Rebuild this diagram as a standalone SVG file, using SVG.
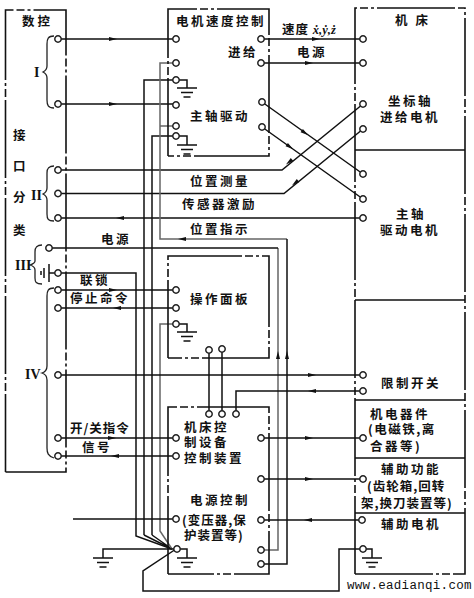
<svg xmlns="http://www.w3.org/2000/svg" width="474" height="598" viewBox="0 0 474 598">
<style>
.b{fill:none;stroke:#111;stroke-width:1.6;stroke-dasharray:78 3 8 3 3 3}
.l{fill:none;stroke:#111;stroke-width:1.5}
.g{fill:none;stroke:#666;stroke-width:1.5}
.p{fill:#fff;stroke:#222;stroke-width:1.5}
.a{fill:#111}
.br{fill:none;stroke:#222;stroke-width:1.3}
text{font-family:"Noto Sans CJK SC","Noto Sans",sans-serif;font-size:12.5px;font-weight:700;letter-spacing:2.5px;fill:#111}
.r{font-family:"Liberation Serif",serif;font-size:14px;letter-spacing:0}
.u{font-family:"Liberation Mono",monospace;font-size:12.5px;font-weight:400;letter-spacing:0.3px}
.i{font-family:"Liberation Serif",serif;font-style:italic;letter-spacing:0}
</style>
<defs>
<path id="a" class="a" d="M-4-2L4 0L-4 2Z"/>
<circle id="o" class="p" r="3.2"/>
<path id="gnd" class="l" d="M-10 0H10M-6 4.500H6M-3.500 9H3.500"/>
</defs>

<g id="connectors">
<path class="l" d="M58 39H176M58 104H176M261 39H363M261 63H363"/>
<path class="l" d="M262 102L363 174M262 127L363 199"/>
<path class="l" d="M58 170H282L363 104M58 193.500H284L363 129M58 218H363"/>
<path class="l" d="M144 535V80H176M152 535V136H176"/>
<path class="g" d="M176 63H160V239H287M160 126H176"/>
<path class="l" d="M287 239V564H261"/>
<path class="g" d="M278 248V550H261"/>
<path class="l" d="M49 248H278"/>
<path class="l" d="M58 273H136V536L172 549"/>
<path class="l" d="M144 535L172 549M152 535L172 549"/>
<path class="g" d="M176 324H160V531L172 549"/>
<path class="l" d="M58 290H176M58 308H176M58 375H363M58 438H176M58 456H176M73 519H176"/>
<path class="l" d="M209 350V414M222 349V414M236 414V391H363"/>
<path class="l" d="M261 438H363M261 479H363M261 520H363"/>
<path class="l" d="M176 549L143 571V591H339V549H363M176 549H103V558"/>
<path class="l" d="M176 80H187V88M176 136H187V145M176 324H187V332M177 549H187V558M363 549H372V558"/>
<path class="l" d="M58 273H49M49 264V282M44 268V278M41 271V275"/>
<use href="#a" x="113" y="39"/><use href="#a" x="113" y="104"/>
<use href="#a" x="316" y="39"/><use href="#a" x="309" y="63"/>
<use href="#a" transform="translate(305 133) rotate(35)"/>
<use href="#a" transform="translate(290 147) rotate(35)"/>
<use href="#a" transform="translate(289 162) rotate(140)"/>
<use href="#a" transform="translate(295 183) rotate(140)"/>
<use href="#a" transform="translate(120 218) rotate(180)"/>
<use href="#a" transform="translate(182 239) rotate(180)"/>
<use href="#a" transform="translate(278 355) rotate(-90)"/>
<use href="#a" transform="translate(287 355) rotate(-90)"/>
<use href="#a" x="113" y="290"/>
<use href="#a" transform="translate(117 308) rotate(180)"/>
<use href="#a" x="312" y="375"/>
<use href="#a" transform="translate(312 391) rotate(180)"/>
<use href="#a" x="112" y="438"/>
<use href="#a" transform="translate(115 456) rotate(180)"/>
<use href="#a" x="309" y="438"/><use href="#a" x="309" y="479"/>
<use href="#a" transform="translate(308 520) rotate(180)"/>
</g>

<g id="nc-interface">
<path class="b" d="M5.500 472V10H66V472H5.500"/>
<path class="br" d="M54 36C48 36 47 39 47 44V66C47 70 45 71 43 72C45 73 47 74 47 78V100C47 105 48 108 54 108"/>
<path class="br" d="M54 166C48 166 47 169 47 173V188C47 192 45 193 43 194C45 195 47 196 47 200V214C47 219 48 221 54 221"/>
<path class="br" d="M42 245C36 245 35 248 35 252V261C35 263 33 264 30 265C33 266 35 267 35 270V278C35 282 36 284 42 284"/>
<path class="br" d="M54 288C48 288 47 291 47 296V366C47 370 45 372 42 373C45 374 47 376 47 380V448C47 453 48 456 54 458"/>
<use href="#o" x="58" y="39"/><use href="#o" x="58" y="104"/><use href="#o" x="58" y="170"/><use href="#o" x="58" y="193.500"/><use href="#o" x="58" y="218"/><use href="#o" x="49" y="248"/><use href="#o" x="58" y="273"/><use href="#o" x="58" y="290"/><use href="#o" x="58" y="308"/><use href="#o" x="58" y="375"/><use href="#o" x="58" y="438"/><use href="#o" x="58" y="456"/>
<text x="22" y="26" style="letter-spacing:3px">数控</text>
<text x="13" y="140">接</text><text x="13" y="171">口</text><text x="13" y="202">分</text><text x="13" y="235">类</text>
<text class="r" x="34" y="77">I</text><text class="r" x="31" y="200">II</text><text class="r" x="15" y="270">III</text><text class="r" x="25" y="379">IV</text>
</g>

<g id="motor-speed-control">
<path class="b" d="M168 156V9H269V156H168"/>
<use href="#o" x="176" y="39"/><use href="#o" x="176" y="63"/><use href="#o" x="176" y="80"/><use href="#o" x="176" y="105"/><use href="#o" x="176" y="126"/><use href="#o" x="176" y="136"/>
<use href="#o" x="261" y="39"/><use href="#o" x="261" y="63"/><use href="#o" x="262" y="102"/><use href="#o" x="262" y="127"/>
<use href="#gnd" x="187" y="88"/><use href="#gnd" x="187" y="145"/>
<text x="176" y="26">电机速度控制</text><text x="228" y="57">进给</text><text x="190" y="121">主轴驱动</text>
</g>

<g id="machine-tool">
<path class="b" d="M355 574V8H465V574H355"/>
<path class="l" d="M355 150H465M355 300H465M355 400H465M355 458H465M355 513H465"/>
<use href="#o" x="363" y="39"/><use href="#o" x="363" y="63"/><use href="#o" x="363" y="104"/><use href="#o" x="363" y="129"/><use href="#o" x="363" y="174"/><use href="#o" x="363" y="199"/><use href="#o" x="363" y="218"/><use href="#o" x="363" y="375"/><use href="#o" x="363" y="391"/><use href="#o" x="363" y="438"/><use href="#o" x="363" y="479"/><use href="#o" x="362" y="520"/><use href="#o" x="363" y="549"/>
<use href="#gnd" x="372" y="558"/>
<text x="395" y="25" style="letter-spacing:8px">机床</text>
<text x="388" y="106">坐标轴</text><text x="380" y="122">进给电机</text>
<text x="396" y="219">主轴</text><text x="380" y="235">驱动电机</text>
<text x="381" y="388">限制开关</text>
<text x="370" y="419">机电器件</text><text x="368" y="434" style="letter-spacing:1.500px">(电磁铁,离</text><text x="370" y="451">合器等)</text>
<text x="381" y="474">辅助功能</text><text x="367" y="491" style="letter-spacing:1px">(齿轮箱,回转</text><text x="361" y="508" style="letter-spacing:1px">架,换刀装置等)</text>
<text x="381" y="529">辅助电机</text>
</g>

<g id="operator-panel">
<path class="b" d="M168 358V256H269V358H168"/>
<use href="#o" x="176" y="290"/><use href="#o" x="176" y="308"/><use href="#o" x="176" y="324"/><use href="#o" x="209" y="350"/><use href="#o" x="222" y="349"/>
<use href="#gnd" x="187" y="332"/>
<text x="190" y="304">操作面板</text>
</g>

<g id="machine-control">
<path class="b" d="M168 574V407H269V574H168"/>
<use href="#o" x="209" y="414"/><use href="#o" x="222" y="414"/><use href="#o" x="236" y="414"/>
<use href="#o" x="176" y="438"/><use href="#o" x="176" y="456"/><use href="#o" x="176" y="519"/><use href="#o" x="177" y="549"/>
<use href="#o" x="261" y="438"/><use href="#o" x="261" y="479"/><use href="#o" x="261" y="520"/><use href="#o" x="261" y="550"/><use href="#o" x="261" y="564"/>
<use href="#gnd" x="187" y="558"/>
<text x="184" y="432">机床控</text><text x="184" y="447">制设备</text><text x="184" y="463">控制装置</text>
<text x="190" y="505">电源控制</text><text x="182" y="525" style="letter-spacing:1px">(变压器,保</text><text x="184" y="540" style="letter-spacing:1px">护装置等)</text>
</g>

<g id="labels">
<use href="#gnd" x="103" y="558"/>
<text x="282" y="34" style="letter-spacing:1px">速度 <tspan class="i">ẋ,ẏ,ż</tspan></text>
<text x="297" y="57">电源</text>
<text x="190" y="186">位置测量</text><text x="182" y="209">传感器激励</text><text x="190" y="234">位置指示</text>
<text x="101" y="244">电源</text><text x="80" y="285">联锁</text><text x="70" y="303">停止命令</text>
<text x="70" y="433" style="letter-spacing:1px">开/关指令</text><text x="82" y="452">信号</text>
<text class="u" x="347" y="589">www.eadianqi.com</text>
</g>
</svg>
